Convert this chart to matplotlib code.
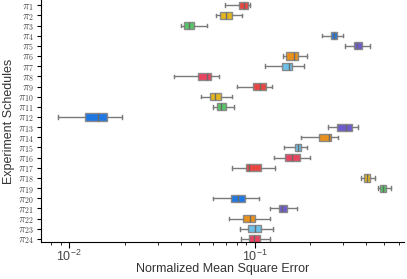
import matplotlib
matplotlib.use("Agg")
import matplotlib.pyplot as plt

plt.rcParams['mathtext.fontset'] = 'cm'
plt.rcParams['font.family'] = ['Liberation Sans', 'DejaVu Sans']

schedules = [rf'$\pi_{{{i}}}$' for i in range(1, 25)]

# whisker low, q1, median, q3, whisker high
whislo = [0.0691, 0.0621, 0.0402, 0.231, 0.309, 0.142, 0.114, 0.0366,
          0.0802, 0.0517, 0.0600, 0.00869, 0.250, 0.178, 0.1447, 0.127,
          0.0754, 0.3755, 0.462, 0.0598, 0.121, 0.0733, 0.0840, 0.0848]
q1 = [0.0830, 0.0649, 0.0417, 0.2585, 0.344, 0.1476, 0.140, 0.0496,
      0.0979, 0.0576, 0.0626, 0.01225, 0.280, 0.2227, 0.165, 0.1453,
      0.0905, 0.388, 0.474, 0.0751, 0.1348, 0.0864, 0.0920, 0.0936]
med = [0.0880, 0.0706, 0.0444, 0.267, 0.359, 0.1625, 0.154, 0.0555,
       0.1073, 0.0616, 0.0661, 0.0144, 0.313, 0.252, 0.172, 0.1585,
       0.0936, 0.403, 0.490, 0.0816, 0.141, 0.094, 0.100, 0.0996]
q3 = [0.0928, 0.0760, 0.0472, 0.2775, 0.3775, 0.172, 0.1585, 0.0586,
      0.1147, 0.0657, 0.0703, 0.0161, 0.336, 0.2575, 0.1788, 0.1757,
      0.1087, 0.422, 0.511, 0.0886, 0.150, 0.1004, 0.1078, 0.1068]
whishi = [0.0951, 0.0861, 0.0555, 0.299, 0.420, 0.192, 0.184, 0.0647,
          0.124, 0.0754, 0.0780, 0.01934, 0.360, 0.282, 0.192, 0.200,
          0.129, 0.4455, 0.5456, 0.1055, 0.1687, 0.1216, 0.1262, 0.121]

palette = ['#e8463e', '#e4b61e', '#56c667', '#1f78e2',
           '#6b5bcd', '#e8911c', '#6cc0ea', '#e8435f']

stats = []
for i in range(len(schedules)):
    stats.append({'whislo': whislo[i], 'q1': q1[i], 'med': med[i],
                  'q3': q3[i], 'whishi': whishi[i], 'fliers': []})

fig = plt.figure(figsize=(4.07, 2.79), dpi=100)
ax = fig.add_axes([0.1007, 0.1326, 0.892, 0.867])

positions = list(range(1, len(schedules) + 1))
bp = ax.bxp(stats, positions=positions, vert=False, widths=0.7,
            patch_artist=True, showfliers=False,
            boxprops=dict(edgecolor='#8a8a8a', linewidth=1.0),
            whiskerprops=dict(color='#7a7a7a', linewidth=1.0),
            capprops=dict(color='#7a7a7a', linewidth=1.0),
            medianprops=dict(color='#6a6a6a', linewidth=1.0))
for i, box in enumerate(bp['boxes']):
    box.set_facecolor(palette[i % len(palette)])

ax.set_xscale('log')
ax.set_xlim(0.00706, 0.64)
ax.set_ylim(24.3, 0.5)
ax.set_yticks(positions)
ax.set_yticklabels(schedules, fontsize=8, color='#444444')
ax.tick_params(axis='x', labelsize=9, labelcolor='#444444', length=4, pad=1)
ax.tick_params(axis='x', which='minor', length=2)
ax.tick_params(axis='y', length=3, pad=2)

for s in ['top', 'right']:
    ax.spines[s].set_visible(False)

ax.set_xlabel('Normalized Mean Square Error', fontsize=9, color='#333333')
ax.xaxis.set_label_coords(0.5, -0.085)
ax.set_ylabel('Experiment Schedules', fontsize=9, color='#333333', labelpad=2)

fig.savefig('out.png', dpi=100)
